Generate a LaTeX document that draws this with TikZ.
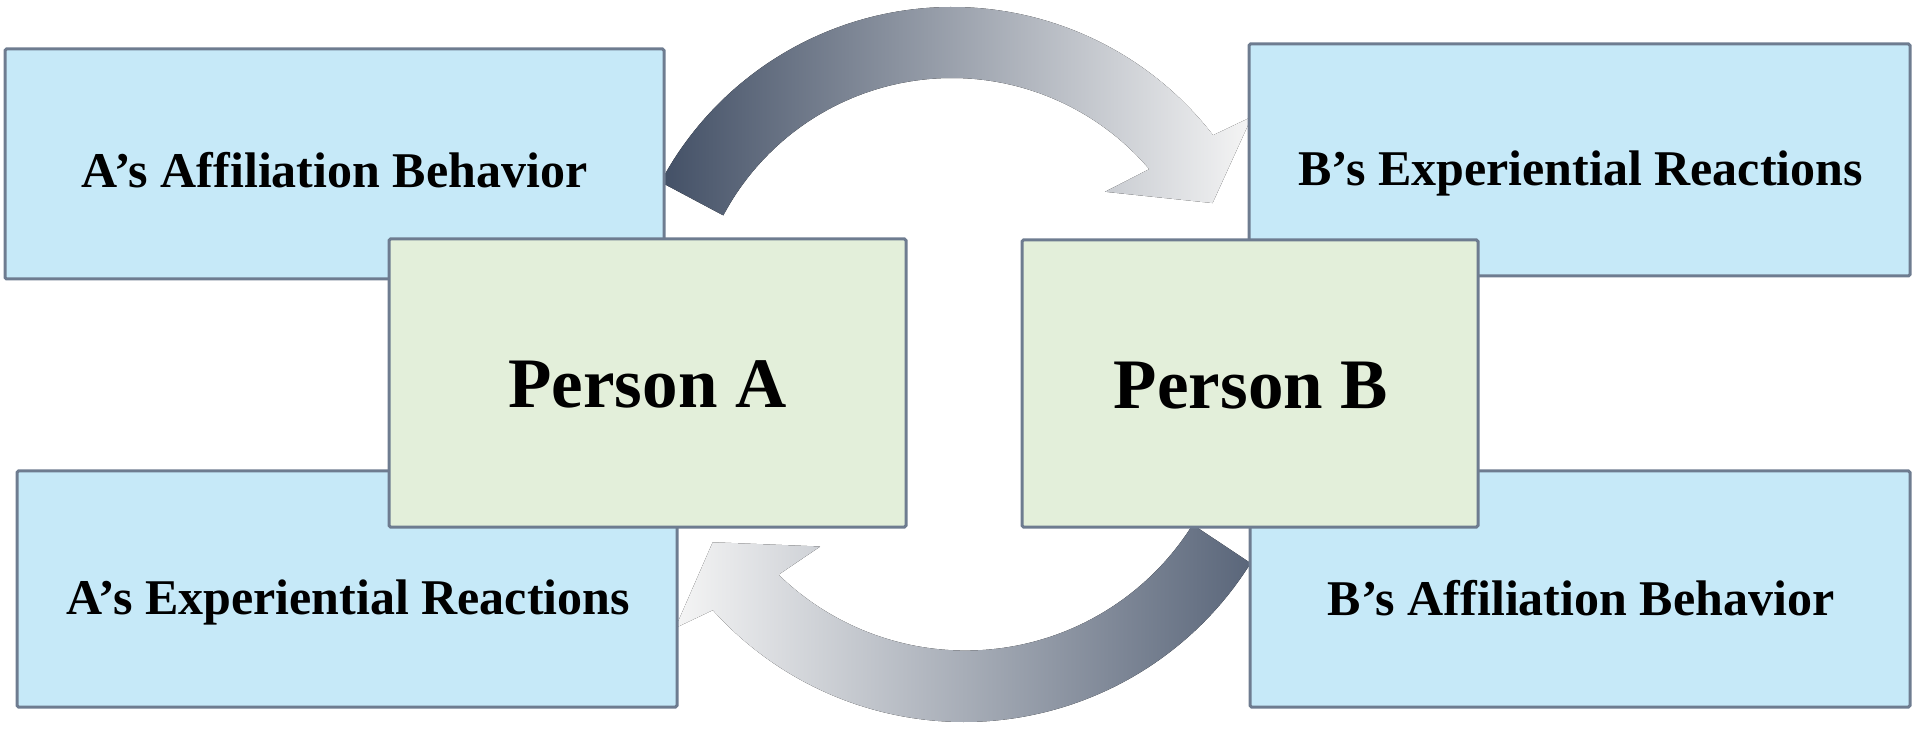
\documentclass[tikz,border=0pt]{standalone}
\usepackage{fontspec}
\setmainfont{Liberation Serif}
\usetikzlibrary{calc}
\definecolor{boxblue}{HTML}{C6E9F8}
\definecolor{boxgreen}{HTML}{E3EFDA}
\definecolor{boxedge}{HTML}{6E7C90}
\definecolor{arrdark}{HTML}{435066}
\definecolor{arrdarkb}{HTML}{5A667A}
\definecolor{arrlight}{HTML}{F5F5F5}
\begin{document}
\begin{tikzpicture}[x=1pt,y=1pt,
  basebox/.style={draw=boxedge, line width=3pt, rounded corners=1.5pt, inner sep=0pt},
  bluebox/.style={basebox, fill=boxblue},
  greenbox/.style={basebox, fill=boxgreen},
  smalltext/.style={anchor=base, font=\bfseries\fontsize{50}{60}\selectfont, inner sep=0pt},
  bigtext/.style={anchor=base, font=\bfseries\fontsize{71}{85}\selectfont, inner sep=0pt}]
\useasboundingbox (0,0) rectangle (1920,729);

% arc centres of the two curved arrows
\coordinate (C1) at (952,392);
\coordinate (C2) at (964,345);

% top curved arrow (A -> B)
\fill[left color=arrdark, right color=arrlight]
  ($(C1)+(152:330)$) arc[start angle=152, end angle=37.7, radius=330]
  -- ($(C1)+(36.3:372)$) -- ($(C1)+(27.2:293)$) -- ($(C1)+(43.5:211)$)
  -- ($(C1)+(40.4:259)$) arc[start angle=40.4, end angle=152, radius=259] -- cycle;

% bottom curved arrow (B -> A)
\fill[left color=arrlight, right color=arrdarkb]
  ($(C2)+(-32:338)$) arc[start angle=-32, end angle=-138, radius=338]
  -- ($(C2)+(-139.8:378)$) -- ($(C2)+(-147.8:297)$) -- ($(C2)+(-131.5:217)$)
  -- ($(C2)+(-134.2:266)$) arc[start angle=-134.2, end angle=-32, radius=268] -- cycle;

% outer boxes
\node[bluebox, minimum width=659, minimum height=230] (aaff) at (334.5,565) {};
\node[bluebox, minimum width=661, minimum height=232] (bexp) at (1579.5,569) {};
\node[bluebox, minimum width=660, minimum height=236] (aexp) at (347,140) {};
\node[bluebox, minimum width=660, minimum height=236] (baff) at (1580,140) {};

% person boxes
\node[greenbox, minimum width=517, minimum height=288] (pa) at (647.5,346) {};
\node[greenbox, minimum width=456, minimum height=287] (pb) at (1250,345.5) {};

% labels
\node[smalltext] (aafft) at ($(aaff.center)+(0,-24)$) {A’s Affiliation Behavior};
\node[smalltext] (bexpt) at ($(bexp.center)+(1,-26)$) {B’s Experiential Reactions};
\node[smalltext] (aexpt) at ($(aexp.center)+(1,-25)$) {A’s Experiential Reactions};
\node[smalltext] (bafft) at ($(baff.center)+(1,-26)$) {B’s Affiliation Behavior};
\node[bigtext] (pat) at ($(pa.center)+(0,-25)$) {Person A};
\node[bigtext] (pbt) at ($(pb.center)+(1,-25)$) {Person B};
\end{tikzpicture}
\end{document}
